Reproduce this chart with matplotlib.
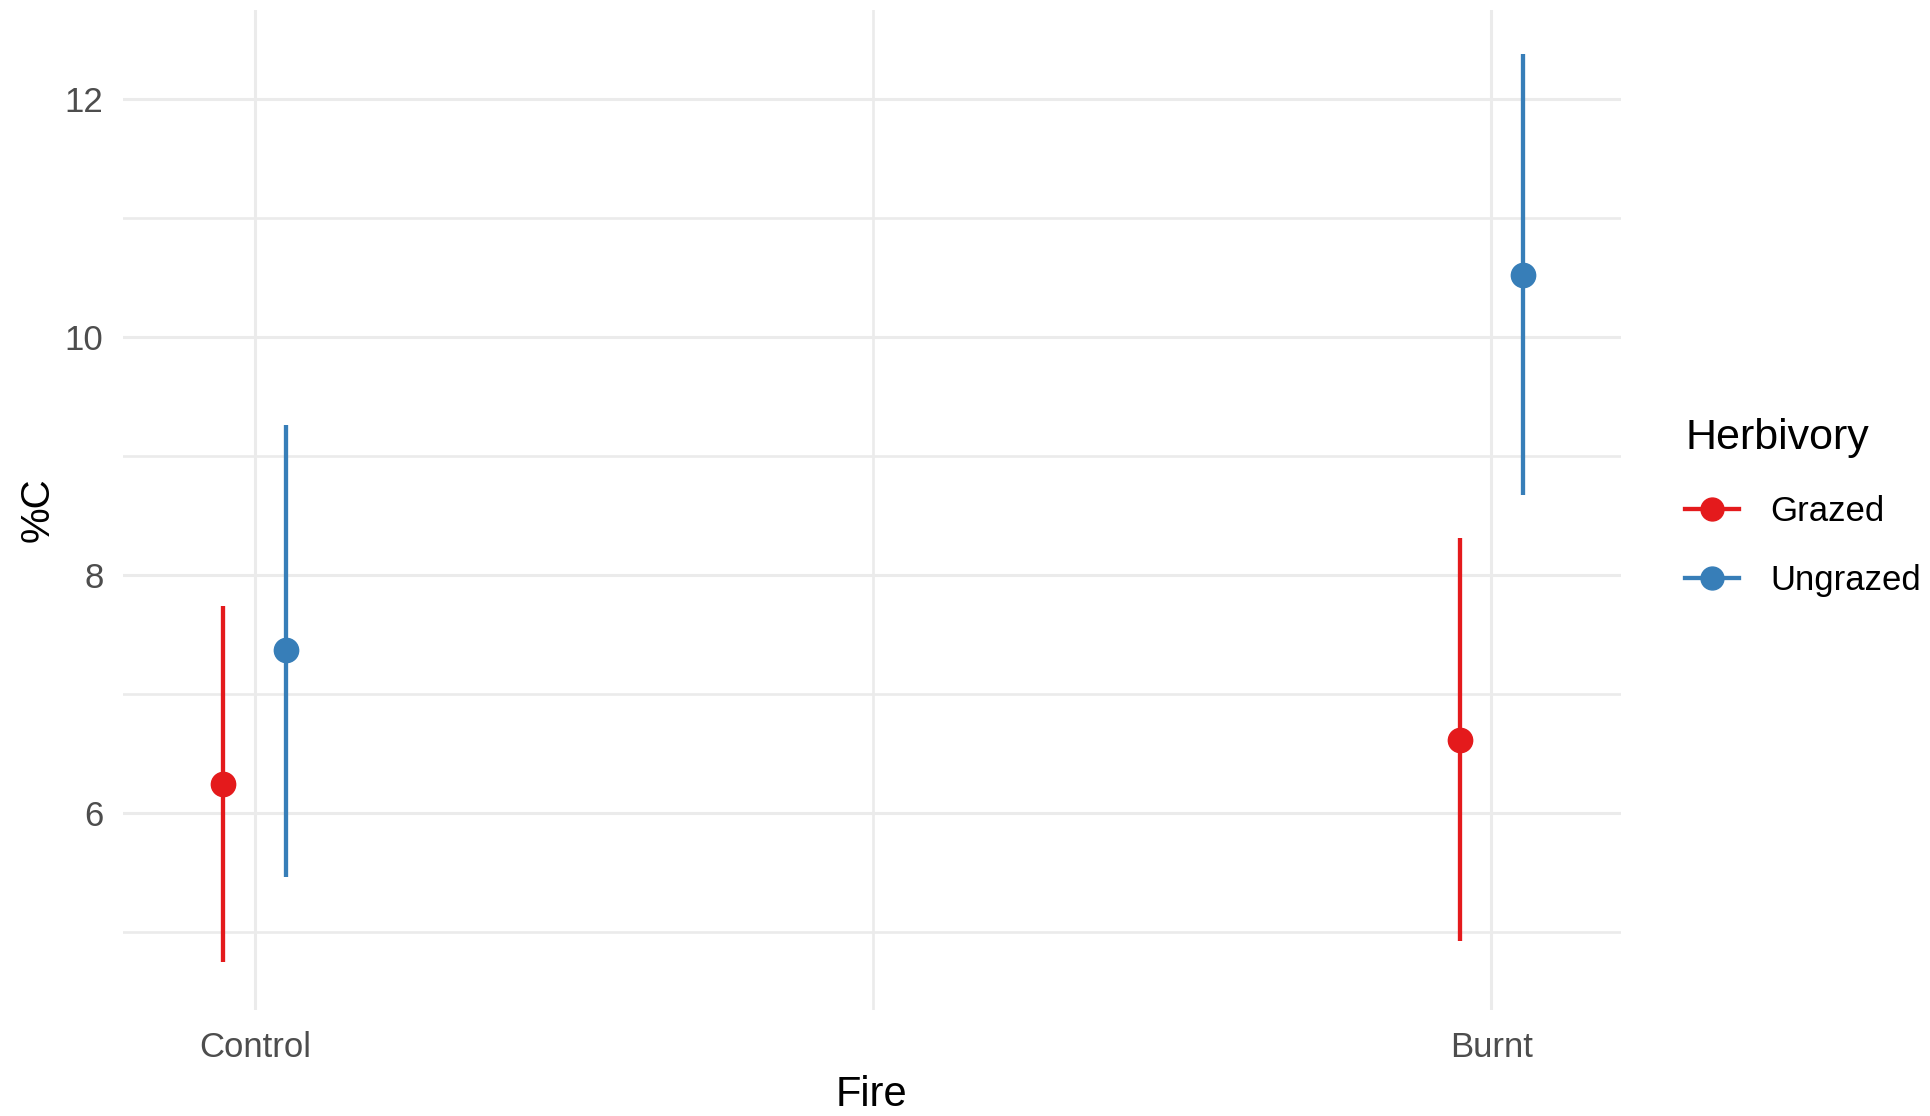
import matplotlib
matplotlib.use("Agg")
import matplotlib.pyplot as plt
from matplotlib.ticker import FixedLocator
import numpy as np

# Data
fire_levels = ["Control", "Burnt"]
herbivory = ["Grazed", "Ungrazed"]
means = {"Grazed": [6.24, 6.61], "Ungrazed": [7.37, 10.52]}
lower = {"Grazed": [4.75, 4.92], "Ungrazed": [5.46, 8.67]}
upper = {"Grazed": [7.74, 8.31], "Ungrazed": [9.26, 12.37]}
colors = {"Grazed": "#E41A1C", "Ungrazed": "#377EB8"}
y_major = [6, 8, 10, 12]
y_minor = [5, 7, 9, 11]

plt.rcParams['font.family'] = ['Liberation Sans', 'DejaVu Sans']

fig = plt.figure(figsize=(19.31, 11.16), dpi=100)
ax = fig.add_axes([0.0637, 0.0952, 0.8393 - 0.0637, 0.9912 - 0.0952])

xpos = np.arange(len(fire_levels))
dodge = {"Grazed": -0.0254, "Ungrazed": 0.0254}

for h in herbivory:
    x = xpos + dodge[h]
    ax.vlines(x, lower[h], upper[h], color=colors[h], lw=3.1, zorder=3)
    ax.plot(x, means[h], 'o', color=colors[h], ms=17.5, zorder=4, linestyle='none')
    ax.plot([], [], '-o', color=colors[h], lw=3.1, ms=16.5, label=h)

ax.set_xlim(-0.1066, 1.1046)
ax.set_ylim(4.345, 12.745)

ax.set_xticks(xpos)
ax.set_xticklabels(fire_levels)
ax.xaxis.set_minor_locator(FixedLocator([0.5]))
ax.yaxis.set_major_locator(FixedLocator(y_major))
ax.yaxis.set_minor_locator(FixedLocator(y_minor))

ax.grid(True, which='major', color='#EBEBEB', lw=2.2)
ax.grid(True, which='minor', color='#EBEBEB', lw=1.9)
ax.set_axisbelow(True)
for s in ax.spines.values():
    s.set_visible(False)
ax.tick_params(which='both', length=0)
ax.tick_params(axis='both', labelsize=25, labelcolor='#4D4D4D')
ax.tick_params(axis='x', pad=15)
ax.tick_params(axis='y', pad=14)

ax.set_xlabel("Fire", fontsize=30, color='black', labelpad=8)
ax.set_ylabel("%C", fontsize=29, color='black', labelpad=6)

leg = ax.legend(title="Herbivory", loc='center left', bbox_to_anchor=(1.034, 0.502),
                frameon=False, fontsize=25, title_fontsize=31, handlelength=1.55,
                handletextpad=0.9, labelspacing=1.05, borderaxespad=0)
leg._legend_box.align = "left"

fig.savefig("out.png", dpi=100, facecolor='white')
